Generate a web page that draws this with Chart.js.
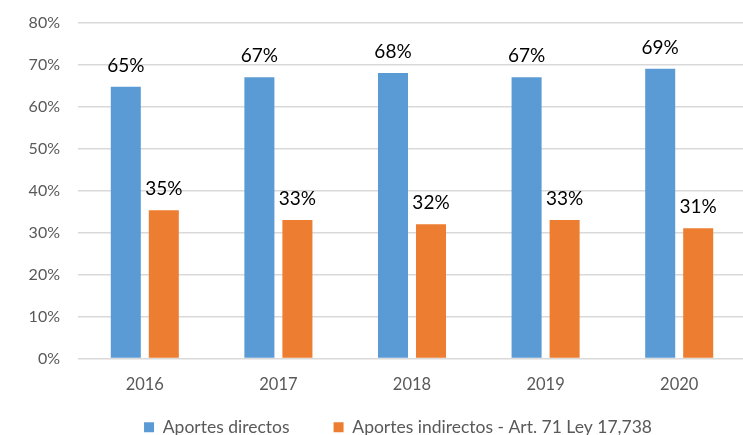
<!DOCTYPE html>
<html>
<head>
<meta charset="utf-8">
<script src="https://cdn.jsdelivr.net/npm/chart.js@4"></script>
<style>
html,body{margin:0;padding:0;background:#fff;overflow:hidden;}
#wrap{width:750px;height:435px;position:relative;}
</style>
</head>
<body>
<div id="wrap"><canvas id="c"></canvas></div>
<script>
const categories = ["2016", "2017", "2018", "2019", "2020"];
const seriesNames = ["Aportes directos", "Aportes indirectos - Art. 71 Ley 17,738"];
const directos = [64.7, 67, 68, 67, 69];
const indirectos = [35.3, 33, 32, 33, 31];
const directosLabels = ["65%", "67%", "68%", "67%", "69%"];
const indirectosLabels = ["35%", "33%", "32%", "33%", "31%"];
const yTicks = [0, 10, 20, 30, 40, 50, 60, 70, 80];

const FONT = "Lato, 'Open Sans', sans-serif";

const labelPlugin = {
  id: 'barLabels',
  afterLayout(chart) {
    const lg = chart.legend;
    if (lg) { lg.left += 25; lg.right += 25; lg.top -= 34; lg.bottom -= 34; }
  },
  afterDatasetsDraw(chart) {
    const ctx = chart.ctx;
    const labelSets = [directosLabels, indirectosLabels];
    ctx.save();
    ctx.font = "19px " + FONT;
    ctx.fillStyle = "#000000";
    ctx.textAlign = "center";
    ctx.textBaseline = "middle";
    chart.data.datasets.forEach((ds, di) => {
      const meta = chart.getDatasetMeta(di);
      meta.data.forEach((bar, i) => {
        ctx.fillText(labelSets[di][i], bar.x, bar.y - 21);
      });
    });
    ctx.restore();
  }
};

new Chart(document.getElementById('c'), {
  type: 'bar',
  data: {
    labels: categories,
    datasets: [
      { label: seriesNames[0], data: directos, backgroundColor: '#5B9BD5', borderWidth: 0 },
      { label: seriesNames[1], data: indirectos, backgroundColor: '#ED7D31', borderWidth: 0 }
    ]
  },
  options: {
    responsive: true,
    maintainAspectRatio: false,
    animation: false,
    devicePixelRatio: 1,
    layout: { padding: { top: 22.6, bottom: -45, left: 0, right: 4 } },
    datasets: { bar: { categoryPercentage: 0.569, barPercentage: 0.79 } },
    plugins: {
      legend: {
        position: 'bottom',
        labels: {
          boxWidth: 10, boxHeight: 10, padding: 44,
          color: '#595959',
          font: { family: FONT, size: 17.5 }
        }
      },
      tooltip: { enabled: false }
    },
    scales: {
      x: {
        grid: { display: false, drawTicks: false },
        border: { display: false },
        ticks: { color: '#595959', font: { family: FONT, size: 16.5 }, padding: 16 },
        afterFit(s) { s.height = 50; }
      },
      y: {
        min: 0, max: 80,
        afterBuildTicks(s) { s.ticks = yTicks.map(v => ({ value: v })); },
        grid: { color: '#D9D9D9', lineWidth: 1.5, drawTicks: false },
        border: { display: false },
        ticks: {
          color: '#595959', font: { family: FONT, size: 16 }, padding: 18,
          callback: v => v + '%'
        },
        afterFit(s) { s.width = 78; s.paddingTop = 0; s.paddingBottom = 0; }
      }
    }
  },
  plugins: [labelPlugin]
});
</script>
</body>
</html>
